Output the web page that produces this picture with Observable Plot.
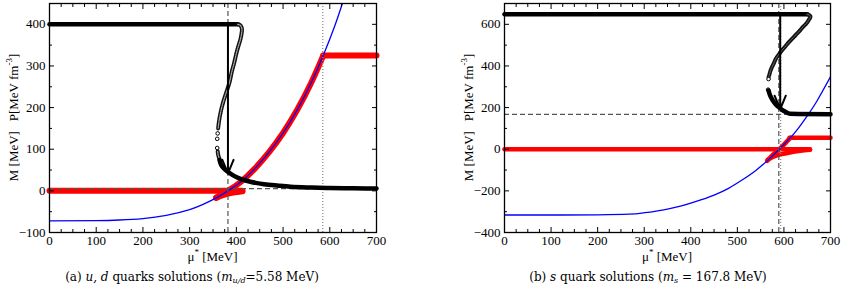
<!DOCTYPE html>
<html><head><meta charset="utf-8">
<script src="https://cdn.jsdelivr.net/npm/d3@7"></script>
<script src="https://cdn.jsdelivr.net/npm/@observablehq/plot@0.6"></script>
<style>
body{margin:0;background:#fff;}
#wrap{position:relative;width:842px;height:284px;font-family:"Liberation Serif","Times New Roman",serif;color:#000;overflow:hidden;}
#wrap svg{position:absolute;top:0;}
#wrap svg text{font-family:"Liberation Serif","Times New Roman",serif !important;font-size:13px;}
#wrap svg text tspan.sup{font-size:9px;}
.cap{position:absolute;top:270px;font-family:"DejaVu Serif",serif;font-size:12px;line-height:14px;white-space:nowrap;transform:translateX(-50%);}
.cap sub{font-size:8px;vertical-align:-2px;line-height:0;}
</style></head>
<body><div id="wrap"></div>
<script>
// ---------- shared tick values ----------
const xMajor = [0,100,200,300,400,500,600,700];
const xMinor = [25,50,75,125,150,175,225,250,275,325,350,375,425,450,475,525,550,575,625,650,675];
const aYMajor = [-100,0,100,200,300,400];
const aYMinor = [-50,50,150,250,350];
const bYMajor = [-400,-200,0,200,400,600];
const bYMinor = [-300,-100,100,300,500];

// ---------- panel (a): u,d quarks ----------
const aStable1 = [[0,400],[403,400]];
const aUnstable = [[403,400],[408,398],[411,393],[412,386],[411,377],[409,365],[405,350],[400,330],[395,306],[390,285],[386,264],[381,245],[376,228],[371,210],[367,192],[364,175],[362,160],[361,150]];
const aUnstableSparse = [[360,138],[359,125],[359,103]];
const aUnstable2 = [[360,95],[361,87],[363,79],[366,70]];
const aStable2 = [[364,74],[366,66],[370,58],[376,51],[384,44],[395,36],[409,29],[430,22],[459,16],[490,12.5],[516,10],[560,8],[600,6.8],[650,6],[700,5.6]];
const aP0 = [[0,0],[413,0]];
const aPwedge = [[357,-16],[380,-7],[413,-1]];
const aPrise = [[357,-17],[382,0],[410,22],[440,54],[470,93],[500,139],[530,194],[560,259],[586,325]];
const aPflat = [[586,325],[700,325]];
const aBlue = [[0,-72],[100,-71.5],[150,-70],[200,-66.5],[250,-59],[300,-45],[330,-32],[357,-17],[382,0],[410,22],[440,54],[470,93],[500,139],[530,194],[560,259],[586,325],[610,394],[627,450]];
const aArrow = [{x1:382,y1:400,x2:382,y2:42}];
const aVDashed = [382], aVDotted = [585], aHDashed = [5.58];

// ---------- panel (b): s quark ----------
const bStable1 = [[0,648],[650,648]];
const bUnstable = [[650,648],[654,645],[657,638],[656,630],[653,620],[649,606],[642,590],[635,572],[628,555],[621,539],[614,522],[608,507],[602,491],[596,475],[590,458],[585,443],[581,427],[578,411],[574,393],[571,376],[569,360],[567,346]];
const bUnstableSparse = [[567,337],[566,286]];
const bStable2 = [[567,282],[570,260],[574,242],[579,225],[585,210],[591,199],[596,189],[605,178],[614,170],[700,168]];
const bP0 = [[0,0],[656,0]];
const bPwedge = [[565,-50],[585,-30],[610,-17],[635,-8],[656,-3]];
const bPrise = [[564,-56],[575,-29],[590,0],[600,22],[610,46],[614,55]];
const bPflat = [[612,55],[700,55]];
const bBlue = [[0,-316],[100,-316],[200,-315],[267,-312],[300,-305],[339,-292],[380,-272],[410,-252],[450,-220],[481,-188],[510,-148],[539,-103],[567,-50],[590,0],[610,46],[630,98],[650,160],[670,228],[700,348]];
const bArrow = [{x1:592,y1:648,x2:592,y2:192}];
const bVDashed = [589], bVDotted = [593], bHDashed = [167.8];

const X = d => d[0], Y = d => d[1];
const RED = "#ff0000", BLUE = "#0000ff";
const FONT = "'Liberation Serif', 'Times New Roman', serif";

function axes(yMajor, yMinor) {
  const blank = () => "";
  return [
    Plot.axisX(xMajor, {anchor:"bottom", tickSize:0, tickPadding:3, label:null, fontSize:13, fontFamily:FONT}),
    Plot.axisX(xMajor, {anchor:"bottom", tickSize:-5, tickFormat:blank, label:null}),
    Plot.axisX(xMinor, {anchor:"bottom", tickSize:-3, tickFormat:blank, label:null}),
    Plot.axisX(xMajor, {anchor:"top", tickSize:-5, tickFormat:blank, label:null}),
    Plot.axisX(xMinor, {anchor:"top", tickSize:-3, tickFormat:blank, label:null}),
    Plot.axisY(yMajor, {anchor:"left", tickSize:0, tickPadding:4, label:null, fontSize:13, fontFamily:FONT}),
    Plot.axisY(yMajor, {anchor:"left", tickSize:-5, tickFormat:blank, label:null}),
    Plot.axisY(yMinor, {anchor:"left", tickSize:-3, tickFormat:blank, label:null}),
    Plot.axisY(yMajor, {anchor:"right", tickSize:-5, tickFormat:blank, label:null}),
    Plot.axisY(yMinor, {anchor:"right", tickSize:-3, tickFormat:blank, label:null}),
    Plot.frame({stroke:"#000", strokeWidth:1.3})
  ];
}

function panel(o) {
  const chart = Plot.plot({
    width: 421, height: 266,
    marginLeft: o.ml, marginRight: o.mr, marginTop: 3, marginBottom: 34,
    x: {domain: [0,700]},
    y: {domain: o.ydom},
    style: {fontFamily: FONT, fontSize: "13px", color: "#000", background: "transparent", overflow: "visible"},
    marks: [
      Plot.line(o.P0, {x:X, y:Y, stroke:RED, strokeWidth:o.rw}),
      Plot.line(o.Pwedge, {x:X, y:Y, stroke:RED, strokeWidth:o.rw, curve:"natural"}),
      Plot.line(o.Prise, {x:X, y:Y, stroke:RED, strokeWidth:o.rw, curve:"natural"}),
      Plot.line(o.Pflat, {x:X, y:Y, stroke:RED, strokeWidth:o.rw}),
      Plot.line(o.blue, {x:X, y:Y, stroke:BLUE, strokeWidth:1.3, curve:"natural", clip:true}),
      Plot.ruleX(o.vDashed, {stroke:"#555", strokeWidth:1.2, strokeDasharray:"5,3"}),
      Plot.ruleX(o.vDotted, {stroke:"#888", strokeWidth:1.2, strokeDasharray:"1,2"}),
      Plot.ruleY(o.hDashed, {stroke:"#555", strokeWidth:1.2, strokeDasharray:"5,3"}),
      Plot.line(o.stable1, {x:X, y:Y, stroke:"#000", strokeWidth:4.5}),
      Plot.line(o.unstable, {x:X, y:Y, stroke:"#111", strokeWidth:4, curve:"natural"}),
      Plot.line(o.unstable, {x:X, y:Y, stroke:o.uc, strokeWidth:o.uw, strokeDasharray:o.ud, curve:"natural"}),
      ...(o.unstable2 ? [
        Plot.line(o.unstable2, {x:X, y:Y, stroke:"#111", strokeWidth:4, curve:"natural"}),
        Plot.line(o.unstable2, {x:X, y:Y, stroke:o.uc, strokeWidth:o.uw, strokeDasharray:o.ud, curve:"natural"})
      ] : []),
      Plot.dot(o.sparse, {x:X, y:Y, r:1.8, stroke:"#000", strokeWidth:1, fill:"#fff"}),
      Plot.line(o.stable2, {x:X, y:Y, stroke:"#000", strokeWidth:4.5, curve:"monotone-x"}),
      Plot.arrow(o.arrow, {x1:"x1", y1:"y1", x2:"x2", y2:"y2", stroke:"#000", strokeWidth:2, headLength:11, headAngle:45}),
      ...axes(o.yMajor, o.yMinor)
    ]
  });
  const sx = chart.scale("x").range, sy = chart.scale("y").range;
  const svg = d3.select(chart).attr("font-family", FONT).attr("font-size", 13);
  const xl = svg.append("text").attr("x", (sx[0]+sx[1])/2).attr("y", 261)
    .attr("text-anchor","middle").attr("fill","#000");
  xl.append("tspan").text("μ");
  xl.append("tspan").attr("class","sup").attr("dy",-6).text("*");
  xl.append("tspan").attr("dy",6).text(" [MeV]");
  const yl = svg.append("text")
    .attr("transform", `translate(${o.ml-31},${(sy[0]+sy[1])/2}) rotate(-90)`)
    .attr("text-anchor","middle").attr("fill","#000");
  yl.append("tspan").text("M [MeV]\u00a0\u00a0\u00a0P[MeV fm");
  yl.append("tspan").attr("class","sup").attr("dy",-6).text("-3");
  yl.append("tspan").attr("dy",6).text("]");
  chart.style.left = o.left + "px";
  return chart;
}

const wrap = document.getElementById("wrap");
wrap.appendChild(panel({left:0, ml:49, mr:45, ydom:[-100,450], rw:6, uw:1.2, ud:"1.5,1", uc:"#aaa",
  yMajor:aYMajor, yMinor:aYMinor,
  P0:aP0, Pwedge:aPwedge, Prise:aPrise, Pflat:aPflat, blue:aBlue,
  vDashed:aVDashed, vDotted:aVDotted, hDashed:aHDashed,
  stable1:aStable1, unstable:aUnstable, unstable2:aUnstable2, sparse:aUnstableSparse, stable2:aStable2, arrow:aArrow}));
wrap.appendChild(panel({left:421, ml:83, mr:12, ydom:[-400,700], rw:4.5, uw:0.9, ud:"1.5,1", uc:"#777",
  yMajor:bYMajor, yMinor:bYMinor,
  P0:bP0, Pwedge:bPwedge, Prise:bPrise, Pflat:bPflat, blue:bBlue,
  vDashed:bVDashed, vDotted:bVDotted, hDashed:bHDashed,
  stable1:bStable1, unstable:bUnstable, unstable2:null, sparse:bUnstableSparse, stable2:bStable2, arrow:bArrow}));

const capA = document.createElement("div");
capA.className = "cap"; capA.style.left = "192px";
capA.innerHTML = "(a) <i>u, d</i> quarks solutions (<i>m</i><sub><i>u/d</i></sub>=5.58 MeV)";
const capB = document.createElement("div");
capB.className = "cap"; capB.style.left = "648px";
capB.innerHTML = "(b) <i>s</i> quark solutions (<i>m<sub>s</sub></i> = 167.8 MeV)";
wrap.appendChild(capA); wrap.appendChild(capB);
</script>
</body></html>
